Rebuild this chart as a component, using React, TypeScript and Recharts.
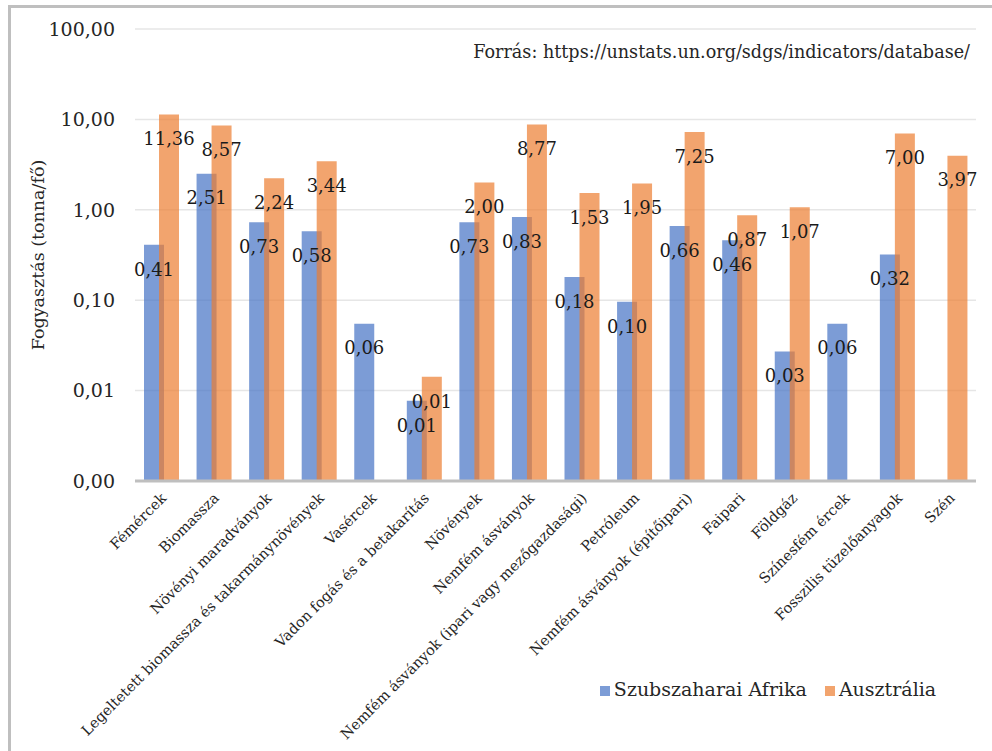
import React from 'react';
import {
    BarChart,
    Bar,
    XAxis,
    YAxis,
    CartesianGrid,
    Legend,
    LabelList,
} from 'recharts';

const categories = [
    'Fémércek',
    'Biomassza',
    'Növényi maradványok',
    'Legeltetett biomassza és takarmánynövények',
    'Vasércek',
    'Vadon fogás és a betakarítás',
    'Növények',
    'Nemfém ásványok',
    'Nemfém ásványok (ipari vagy mezőgazdasági)',
    'Petróleum',
    'Nemfém ásványok (építőipari)',
    'Faipari',
    'Földgáz',
    'Színesfém ércek',
    'Fosszilis tüzelőanyagok',
    'Szén',
];

const afrika = [0.41, 2.51, 0.73, 0.58, 0.055, 0.0077, 0.73, 0.83, 0.18, 0.096, 0.66, 0.46, 0.027, 0.055, 0.32, null];
const ausztralia = [11.36, 8.57, 2.24, 3.44, null, 0.0142, 2.0, 8.77, 1.53, 1.95, 7.25, 0.87, 1.07, null, 7.0, 3.97];

const yTicks = [0.001, 0.01, 0.1, 1, 10, 100];

const data = categories.map((name, i) => ({
    name,
    afrika: afrika[i],
    ausztralia: ausztralia[i],
}));

const FONT = '"DejaVu Serif", serif';
const BLUE = 'rgba(68,114,196,0.7)';
const ORANGE = 'rgba(237,125,49,0.7)';

const fmt = (v: any) => (v === null || v === undefined ? '' : Number(v).toFixed(2).replace('.', ','));

function XTick(props: any) {
    const { x, y, payload } = props;
    return (
        <g transform={`translate(${x + 6},${y + 10})`}>
            <text
                x={0}
                y={0}
                textAnchor="end"
                transform="rotate(-45)"
                fontFamily={FONT}
                fontSize={14.5}
                fill="#262626"
            >
                {payload.value}
            </text>
        </g>
    );
}

export default function App() {
    return (
        <div style={{ position: 'absolute', left: 0, top: 0, width: 992, height: 751, background: '#fff' }}>
            <div
                style={{
                    position: 'absolute',
                    left: 8,
                    top: 5,
                    width: 984,
                    height: 746,
                    borderTop: '3px solid #BFBFBF',
                    borderLeft: '3px solid #BFBFBF',
                    boxSizing: 'border-box',
                }}
            />
            <div
                style={{
                    position: 'absolute',
                    right: 22,
                    top: 42,
                    fontFamily: FONT,
                    fontSize: 17.6,
                    color: '#262626',
                    whiteSpace: 'nowrap',
                }}
            >
                Forrás: https://unstats.un.org/sdgs/indicators/database/
            </div>
            <BarChart
                width={992}
                height={751}
                data={data}
                margin={{ top: 29, right: 16, left: 0, bottom: 0 }}
                barSize={20}
                barGap={-5}
                style={{ position: 'absolute', left: 0, top: 0 }}
            >
                <CartesianGrid vertical={false} stroke="#E6E6E6" strokeWidth={1.5} />
                <XAxis
                    dataKey="name"
                    interval={0}
                    height={270}
                    tick={<XTick />}
                    tickLine={false}
                    axisLine={{ stroke: '#BFBFBF', strokeWidth: 3 }}
                />
                <YAxis
                    scale="log"
                    domain={[0.001, 100]}
                    ticks={yTicks}
                    allowDataOverflow
                    width={135}
                    tickFormatter={fmt}
                    tick={{ fontFamily: FONT, fontSize: 19, fill: '#262626' }}
                    tickLine={false}
                    axisLine={false}
                    tickMargin={14}
                    label={{
                        value: 'Fogyasztás (tonna/fő)',
                        angle: -90,
                        position: 'insideLeft',
                        offset: 38,
                        style: { fontFamily: FONT, fontSize: 17.5, fill: '#262626', textAnchor: 'middle' },
                    }}
                />
                <Legend
                    layout="horizontal"
                    verticalAlign="middle"
                    align="center"
                    iconType="square"
                    iconSize={10}
                    itemSorter={(item: any) => (item.dataKey === 'afrika' ? 0 : 1)}
                    wrapperStyle={{ top: 678, left: 572, width: 410, fontFamily: FONT, fontSize: 19, whiteSpace: 'nowrap' }}
                    formatter={(value: string) => <span style={{ color: '#262626', marginRight: 8 }}>{value}</span>}
                />
                <Bar
                    dataKey="afrika"
                    name="Szubszaharai Afrika"
                    fill={BLUE}
                    isAnimationActive={false}
                >
                    <LabelList
                        dataKey="afrika"
                        position="insideTop"
                        offset={18}
                        formatter={fmt}
                        style={{ fontFamily: FONT, fontSize: 18, fill: '#1a1a1a' }}
                    />
                </Bar>
                <Bar
                    dataKey="ausztralia"
                    name="Ausztrália"
                    fill={ORANGE}
                    isAnimationActive={false}
                >
                    <LabelList
                        dataKey="ausztralia"
                        position="insideTop"
                        offset={18}
                        formatter={fmt}
                        style={{ fontFamily: FONT, fontSize: 18, fill: '#1a1a1a' }}
                    />
                </Bar>
            </BarChart>
        </div>
    );
}
